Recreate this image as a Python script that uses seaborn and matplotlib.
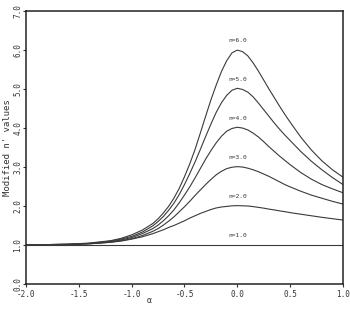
import matplotlib
matplotlib.use("Agg")
import matplotlib.pyplot as plt
import pandas as pd
import seaborn as sns

ALPHA = [-2.0, -1.8, -1.6, -1.4, -1.2, -1.1, -1.0, -0.9, -0.8, -0.75, -0.7,
         -0.65, -0.6, -0.55, -0.5, -0.45, -0.4, -0.35, -0.3, -0.25, -0.2,
         -0.15, -0.1, -0.05, 0.0, 0.05, 0.1, 0.15, 0.2, 0.25, 0.3, 0.35, 0.4,
         0.45, 0.5, 0.6, 0.7, 0.8, 0.9, 1.0]

N_VALUES = [1.0, 2.0, 3.0, 4.0, 5.0, 6.0]

N1 = [1.0] * len(ALPHA)
N2 = [1.0, 1.005, 1.01, 1.03, 1.07, 1.10, 1.15, 1.21, 1.29, 1.34, 1.39,
      1.45, 1.50, 1.56, 1.62, 1.69, 1.75, 1.81, 1.86, 1.91, 1.95,
      1.975, 1.99, 2.005, 2.01, 2.005, 2.00, 1.985, 1.965, 1.945, 1.92, 1.90,
      1.875, 1.855, 1.83, 1.79, 1.75, 1.71, 1.675, 1.64]
N3 = [1.0, 1.005, 1.01, 1.03, 1.07, 1.11, 1.16, 1.24, 1.35, 1.42, 1.51,
      1.61, 1.72, 1.85, 1.98, 2.12, 2.27, 2.41, 2.55, 2.68, 2.80,
      2.89, 2.96, 2.995, 3.01, 3.00, 2.97, 2.93, 2.88, 2.82, 2.76, 2.69,
      2.62, 2.55, 2.49, 2.38, 2.28, 2.20, 2.12, 2.05]
N4 = [1.0, 1.01, 1.02, 1.04, 1.08, 1.13, 1.19, 1.29, 1.42, 1.51, 1.62,
      1.75, 1.90, 2.08, 2.28, 2.49, 2.72, 2.96, 3.20, 3.42, 3.62,
      3.79, 3.92, 3.99, 4.02, 4.00, 3.95, 3.87, 3.77, 3.65, 3.52, 3.40,
      3.28, 3.17, 3.06, 2.86, 2.69, 2.55, 2.44, 2.34]
N5 = [1.0, 1.01, 1.02, 1.04, 1.10, 1.15, 1.22, 1.33, 1.49, 1.60, 1.73,
      1.89, 2.07, 2.29, 2.55, 2.83, 3.13, 3.45, 3.78, 4.10, 4.40,
      4.65, 4.84, 4.97, 5.02, 4.99, 4.92, 4.80, 4.64, 4.47, 4.30, 4.13,
      3.97, 3.82, 3.68, 3.40, 3.15, 2.93, 2.73, 2.55]
N6 = [1.0, 1.01, 1.02, 1.05, 1.11, 1.17, 1.26, 1.38, 1.55, 1.67, 1.82,
      1.99, 2.20, 2.45, 2.75, 3.08, 3.45, 3.87, 4.30, 4.72, 5.10,
      5.45, 5.73, 5.93, 6.00, 5.96, 5.85, 5.67, 5.46, 5.23, 5.00, 4.78,
      4.56, 4.35, 4.15, 3.77, 3.44, 3.16, 2.93, 2.74]

X_TICKS = [-2.0, -1.5, -1.0, -0.5, 0.0, 0.5, 1.0]
Y_TICKS = [0.0, 1.0, 2.0, 3.0, 4.0, 5.0, 6.0, 7.0]


def main():
    sns.set_style("white")
    plt.rcParams["font.family"] = ["DejaVu Sans Mono", "DejaVu Sans"]

    curves = [N1, N2, N3, N4, N5, N6]
    frames = []
    for n, vals in zip(N_VALUES, curves):
        frames.append(pd.DataFrame({"alpha": ALPHA, "value": vals, "n": n}))
    df = pd.concat(frames, ignore_index=True)

    fig = plt.figure(figsize=(3.5, 3.09), dpi=100)
    ax = fig.add_axes([0.074, 0.081, 0.906, 0.883])

    sns.lineplot(data=df, x="alpha", y="value", units="n", estimator=None,
                 color="#3a3a3a", linewidth=0.8, ax=ax)

    # curve labels just above each peak
    for n in N_VALUES:
        ax.text(0.0, n + 0.17, f"n={n:.1f}", fontsize=4.5, ha="center",
                va="bottom", color="#333333")

    ax.set_xlim(-2.0, 1.0)
    ax.set_ylim(0.0, 7.0)
    ax.set_xticks(X_TICKS)
    ax.set_xticklabels([f"{t:.1f}" for t in X_TICKS], fontsize=5.5)
    ax.set_yticks(Y_TICKS)
    ax.set_yticklabels([f"{t:.1f}" for t in Y_TICKS], fontsize=5.5,
                       rotation=90, va="center")
    ax.tick_params(direction="out", length=2.5, width=0.8, pad=1.5,
                   colors="#333333", left=True, bottom=True)
    ax.tick_params(axis="y", length=2, pad=0.5)

    ax.set_xlabel("α", fontsize=6, color="#333333")
    ax.xaxis.set_label_coords(0.39, -0.045)
    ax.set_ylabel("Modified n' values", fontsize=6.5, color="#333333",
                  labelpad=1)

    for side in ax.spines.values():
        side.set_linewidth(1.1)
        side.set_color("#222222")

    fig.savefig("out.png", dpi=100)


if __name__ == "__main__":
    main()
